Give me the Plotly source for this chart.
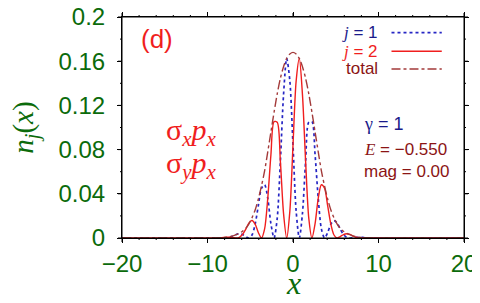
import plotly.graph_objects as go

# ---- data ----
x_pos = [-20.0,
         -9.963, -9.594, -9.225, -8.856, -8.487, -8.118, -7.749, -7.38, -7.011,
         -6.642, -6.273, -5.904, -5.535, -5.166, -4.797, -4.428, -4.059, -3.69,
         -3.321, -2.952, -2.583, -2.214, -1.845, -1.476, -1.107, -0.738, -0.369,
         0.0,
         0.369, 0.738, 1.107, 1.476, 1.845, 2.214, 2.583, 2.952, 3.321,
         3.69, 4.059, 4.428, 4.797, 5.166, 5.535, 5.904, 6.273, 6.642,
         7.011, 7.38, 7.749, 8.118, 8.487, 8.856, 9.225, 9.594, 9.963,
         20.0]

n_j1 = [0.0,
        0.0, 0.00005, 0.000085, 0.0001, 0.000044, 0.0, 0.00012, 0.00065, 0.00179,
        0.0032, 0.00384, 0.00315, 0.00135, 0.0, 0.00271, 0.0125, 0.02902, 0.045,
        0.04823, 0.0359, 0.01293, 0.0, 0.01796, 0.06935, 0.12975, 0.1625, 0.14213,
        0.084,
        0.02438, 0.0, 0.02225, 0.06935, 0.10474, 0.1053, 0.07537, 0.0359, 0.00827,
        0.0, 0.00498, 0.0125, 0.01579, 0.0135, 0.00785, 0.00315, 0.00066, 0.0,
        0.00031, 0.00065, 0.00068, 0.0005, 0.00026, 0.0001, 0.00001, 0.0, 0.0,
        0.0]

n_j2 = [0.0,
        0.0, 0.0, 0.000015, 0.0001, 0.000256, 0.0005, 0.00068, 0.00065, 0.00031,
        0.0, 0.00066, 0.00315, 0.00785, 0.0135, 0.01579, 0.0125, 0.00498, 0.0,
        0.00827, 0.0359, 0.07537, 0.1053, 0.10474, 0.06935, 0.02225, 0.0, 0.02437,
        0.084,
        0.14212, 0.1625, 0.12975, 0.06935, 0.01796, 0.0, 0.01293, 0.0359, 0.04823,
        0.045, 0.02902, 0.0125, 0.00271, 0.0, 0.00135, 0.00315, 0.00384, 0.0032,
        0.00179, 0.00065, 0.00012, 0.0, 0.00004, 0.0001, 0.00009, 0.00005, 0.0,
        0.0]

n_total = [0.0,
           0.0, 0.00005, 0.0001, 0.0002, 0.0003, 0.0005, 0.0007, 0.0012, 0.0019,
           0.0030, 0.0043, 0.0061, 0.0087, 0.0126, 0.0182, 0.0254, 0.0351, 0.0471,
           0.0607, 0.0780, 0.0960, 0.1138, 0.1305, 0.1445, 0.1550, 0.1625, 0.1665,
           0.168,
           0.1665, 0.1625, 0.1550, 0.1445, 0.1305, 0.1138, 0.0960, 0.0780, 0.0607,
           0.0471, 0.0351, 0.0254, 0.0182, 0.0126, 0.0087, 0.0061, 0.0043, 0.0030,
           0.0019, 0.0012, 0.0007, 0.0005, 0.0003, 0.0002, 0.0001, 0.00005, 0.0,
           0.0]

x_range = [-20, 20]
y_range = [0, 0.2]
x_ticks = [-20, -10, 0, 10, 20]
x_minor_ticks = [-18, -16, -14, -12, -8, -6, -4, -2, 2, 4, 6, 8, 12, 14, 16, 18]
y_ticks = [0, 0.04, 0.08, 0.12, 0.16, 0.2]
y_minor_ticks = [0.02, 0.06, 0.10, 0.14, 0.18]
y_ticktext = ["0", "0.04", "0.08", "0.12", "0.16", "0.2"]

GREEN = "#0b6b0b"
BLUE_T = "#1a1a8a"
BLUE_L = "#2626c4"
RED = "#f01e1e"
DRED = "#8b1414"
TOT = "#a33a3a"
SANS = "Liberation Sans, Arial, sans-serif"
SERIF = "Liberation Serif, Times New Roman, serif"

fig = go.Figure()
fig.add_trace(go.Scatter(x=x_pos, y=n_j1, mode="lines", name="j = 1",
                         line=dict(color=BLUE_L, width=1.7, dash="dot", shape="spline", smoothing=0.8)))
fig.add_trace(go.Scatter(x=x_pos, y=n_j2, mode="lines", name="j = 2",
                         line=dict(color=RED, width=1.4, shape="spline", smoothing=0.8)))
fig.add_trace(go.Scatter(x=x_pos, y=n_total, mode="lines", name="total",
                         line=dict(color=TOT, width=1.4, dash="dashdot", shape="spline", smoothing=0.8)))

axis_common = dict(showline=True, linecolor="black", linewidth=1, mirror="ticks",
                   ticks="outside", ticklen=4, tickcolor="black", tickwidth=1,
                   showgrid=False, zeroline=False, ticklabeloverflow="allow",
                   tickfont=dict(family=SANS, size=24, color=GREEN))

fig.update_xaxes(range=x_range, tickvals=x_ticks, automargin="bottom", **axis_common)
fig.update_yaxes(range=y_range, tickvals=y_ticks, ticktext=y_ticktext,
                 automargin="left", ticklabelstandoff=7, **axis_common)

# plot frame
fig.add_shape(type="rect", xref="paper", yref="paper", x0=0, x1=1, y0=0, y1=1,
              line=dict(color="black", width=1), fillcolor="rgba(0,0,0,0)", layer="above")

# outside tick marks on all four sides (paper-referenced so they are not clipped to the plot area)
tick_line = dict(color="black", width=1)


def xfrac(v):
    return (v - x_range[0]) / (x_range[1] - x_range[0])


def yfrac(v):
    return (v - y_range[0]) / (y_range[1] - y_range[0])


for vals, ln in ((x_ticks, 4), (x_minor_ticks, 2)):
    for v in vals:
        fig.add_shape(type="line", xref="paper", yref="paper", x0=xfrac(v), x1=xfrac(v),
                      ysizemode="pixel", yanchor=0, y0=-ln, y1=0, line=tick_line, layer="above")
        fig.add_shape(type="line", xref="paper", yref="paper", x0=xfrac(v), x1=xfrac(v),
                      ysizemode="pixel", yanchor=1, y0=0, y1=ln, line=tick_line, layer="above")
for vals, ln in ((y_ticks, 4), (y_minor_ticks, 2)):
    for v in vals:
        fig.add_shape(type="line", xref="paper", yref="paper", y0=yfrac(v), y1=yfrac(v),
                      xsizemode="pixel", xanchor=0, x0=-ln, x1=0, line=tick_line, layer="above")
        fig.add_shape(type="line", xref="paper", yref="paper", y0=yfrac(v), y1=yfrac(v),
                      xsizemode="pixel", xanchor=1, x0=0, x1=ln, line=tick_line, layer="above")

ann = []
# axis titles
ann.append(dict(x=0.5, y=-0.292, xref="paper", yref="paper", xanchor="center", yanchor="bottom",
                text="<i>x</i>", showarrow=False, font=dict(family=SERIF, size=32, color=GREEN)))
ann.append(dict(x=-0.283, y=0.5, xref="paper", yref="paper", xanchor="center", yanchor="middle",
                textangle=-90, text="<i>n<sub>j</sub></i>(<i>x</i>)", showarrow=False,
                font=dict(family=SERIF, size=29, color=GREEN)))

# custom legend: text left, sample right
leg = [("<span style='font-family:Liberation Serif'><i>j</i></span> = 1", BLUE_T, 0.929, BLUE_L, "dot", 1.7),
       ("<span style='font-family:Liberation Serif'><i>j</i></span> = 2", RED, 0.845, RED, "solid", 1.4),
       ("total", DRED, 0.765, TOT, "dashdot", 1.4)]
for txt, tc, yy, lc, dsh, lw in leg:
    ann.append(dict(x=0.754, y=yy, xref="paper", yref="paper", xanchor="right", yanchor="middle",
                    text=txt, showarrow=False, font=dict(family=SANS, size=17, color=tc)))
    fig.add_shape(type="line", xref="paper", yref="paper", x0=0.788, x1=0.935, y0=yy, y1=yy,
                  line=dict(color=lc, width=lw, dash=dsh))

ann.append(dict(x=0.103, y=0.9, xref="paper", yref="paper", xanchor="center", yanchor="middle",
                text="(d)", showarrow=False, font=dict(family=SANS, size=26, color=RED)))
ann.append(dict(x=0.122, y=0.48, xref="paper", yref="paper", xanchor="left", yanchor="middle",
                text="σ<sub><i>x</i></sub><i>p</i><sub><i>x</i></sub>", showarrow=False,
                font=dict(family=SERIF, size=30, color=RED)))
ann.append(dict(x=0.122, y=0.33, xref="paper", yref="paper", xanchor="left", yanchor="middle",
                text="σ<sub><i>y</i></sub><i>p</i><sub><i>x</i></sub>", showarrow=False,
                font=dict(family=SERIF, size=30, color=RED)))
ann.append(dict(x=0.701, y=0.517, xref="paper", yref="paper", xanchor="left", yanchor="middle",
                text="<span style='font-family:Liberation Serif'>γ</span> = 1", showarrow=False,
                font=dict(family=SANS, size=18, color=BLUE_T)))
ann.append(dict(x=0.701, y=0.399, xref="paper", yref="paper", xanchor="left", yanchor="middle",
                text="<span style='font-family:Liberation Serif'><i>E</i></span> = −0.550", showarrow=False,
                font=dict(family=SANS, size=17, color=DRED)))
ann.append(dict(x=0.701, y=0.299, xref="paper", yref="paper", xanchor="left", yanchor="middle",
                text="mag = 0.00", showarrow=False, font=dict(family=SANS, size=17, color=DRED)))

# page body has an 8px margin, so the figure is sized/margined to sit where the reference plot is
fig.update_layout(width=472, height=295, margin=dict(l=114, r=16, t=9, b=65),
                  paper_bgcolor="white", plot_bgcolor="white", showlegend=False,
                  annotations=ann)

fig.write_html("out.html")
